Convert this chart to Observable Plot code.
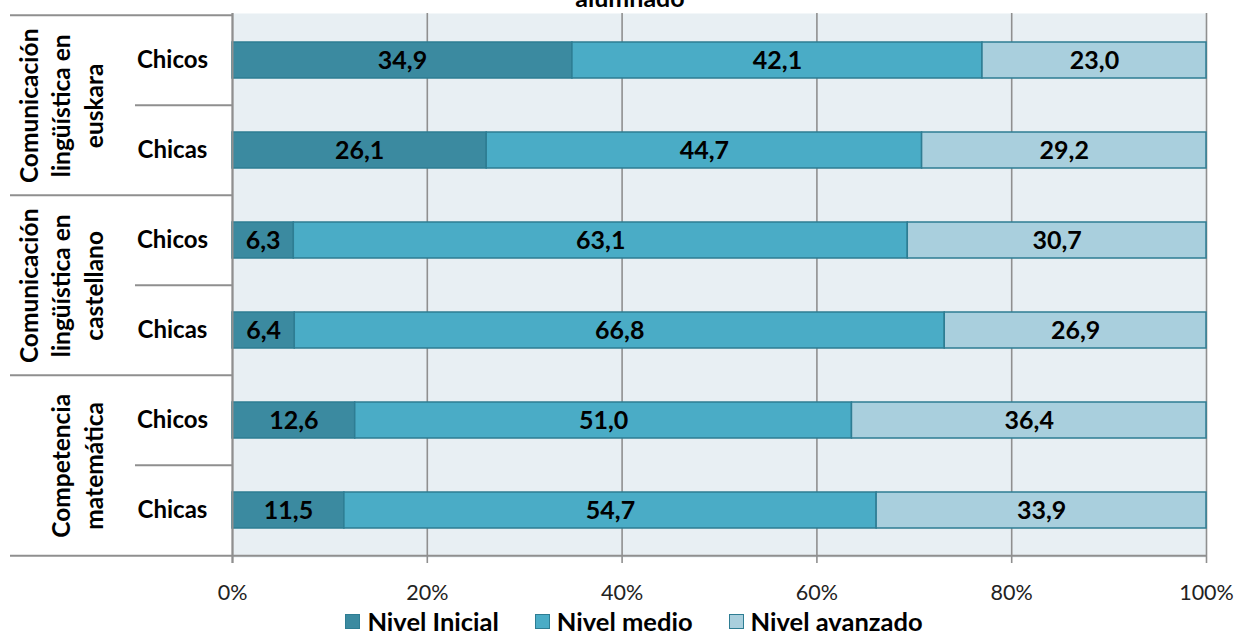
<!DOCTYPE html>
<html>
<head>
<meta charset="utf-8">
<script src="https://cdn.jsdelivr.net/npm/d3@7"></script>
<script src="https://cdn.jsdelivr.net/npm/@observablehq/plot@0.6"></script>
<style>
  html, body { margin: 0; padding: 0; background: #fff; overflow: hidden; }
  #wrap { position: relative; width: 1244px; height: 635px; font-family: Lato, "Open Sans", sans-serif; }
  #title { position: absolute; left: 0; top: -15px; width: 1244px; padding-left: 16px; box-sizing: border-box;
           text-align: center; font-weight: bold; font-size: 25px; line-height: 25px; color: #000; }
  #legend { display: flex; justify-content: center; align-items: center; height: 24px; line-height: 24px; margin-top: -1px;
            padding-left: 24px; font-weight: bold; font-size: 25.5px; color: #000; }
  .item { display: flex; align-items: center; margin: 0 18px; }
  .sw { width: 15px; height: 15px; box-sizing: border-box; border: 1px solid #2e7d93; margin-right: 7px; }
</style>
</head>
<body>
<div id="wrap">
  <div id="chart"></div>
  <div id="legend"></div>
  <div id="title">alumnado</div>
</div>
<script>
// ---- data ----
const groups = ["Comunicación lingüística en euskara", "Comunicación lingüística en castellano", "Competencia matemática"];
const groupLabels = ["Comunicación\nlingüística en\neuskara", "Comunicación\nlingüística en\ncastellano", "Competencia\nmatemática"];
const sexes = ["Chicos", "Chicas"];
const levels = ["Nivel Inicial", "Nivel medio", "Nivel avanzado"];
const nivelInicial = [34.9, 26.1, 6.3, 6.4, 12.6, 11.5];
const nivelMedio = [42.1, 44.7, 63.1, 66.8, 51.0, 54.7];
const nivelAvanzado = [23.0, 29.2, 30.7, 26.9, 36.4, 33.9];
const xTicks = [0, 0.2, 0.4, 0.6, 0.8, 1];
const colors = ["#3b8aa0", "#4aacc6", "#a9cfdd"];

// ---- layout ----
const W = 1244, H = 610, MT = 13, MR = 38, MB = 53, ML = 232;
const plotW = W - ML - MR;
const rowKeys = [];
groups.forEach(g => sexes.forEach(s => rowKeys.push(g + "|" + s)));
const step = (H - MT - MB) / rowKeys.length;

const series = [nivelInicial, nivelMedio, nivelAvanzado];
const data = [];
rowKeys.forEach((r, i) => levels.forEach((lv, j) => {
  data.push({row: r, group: groups[Math.floor(i / 2)], sex: sexes[i % 2], level: lv, value: series[j][i]});
}));
const rows = rowKeys.map((r, i) => ({row: r, sex: sexes[i % 2], first: i % 2 === 0}));
const groupRows = groups.map((g, i) => ({row: rowKeys[i * 2], label: groupLabels[i]}));
const fmt = v => v.toFixed(1).replace(".", ",");
const gray = "#8f8f8f";

const plot = Plot.plot({
  width: W, height: H,
  marginTop: MT, marginRight: MR, marginBottom: MB, marginLeft: ML,
  style: {fontFamily: "Lato, 'Open Sans', sans-serif", fontSize: "21px", background: "#fff", overflow: "visible"},
  x: {domain: [0, 1], axis: null, label: null},
  y: {domain: rowKeys, padding: 0.6, paddingOuter: 0.3, axis: null},
  color: {domain: levels, range: colors},
  marks: [
    Plot.frame({fill: "#e8eff3", stroke: null}),
    Plot.gridX(xTicks, {stroke: gray, strokeOpacity: 1, strokeWidth: 1.6}),
    Plot.barX(data, Plot.stackX({x: "value", y: "row", z: "level", fill: "level", order: levels, offset: "normalize",
      stroke: "#2e7d93", strokeWidth: 1.5})),
    Plot.text(data, Plot.stackX({x: "value", y: "row", z: "level", order: levels, offset: "normalize",
      text: d => fmt(d.value), fontWeight: "bold", fontSize: 25, fill: "#000"})),
    // left table: row labels
    Plot.text(rows, {y: "row", text: "sex", frameAnchor: "left", dx: -60, textAnchor: "middle",
      fontWeight: "bold", fontSize: 24, fill: "#000"}),
    // group labels (rotated)
    Plot.text(groupRows, {y: "row", text: "label", frameAnchor: "left", dx: -130, dy: step / 2, rotate: -90,
      textAnchor: "middle", lineAnchor: "bottom", lineHeight: 1.32, fontWeight: "bold", fontSize: 24.5, fill: "#000"}),
    // separators in the left table
    Plot.ruleY(rows.filter(d => d.first), {y: "row", dy: -step / 2, insetLeft: -222, insetRight: plotW, stroke: gray, strokeWidth: 2}),
    Plot.ruleY(rows.filter(d => !d.first), {y: "row", dy: -step / 2, insetLeft: -97, insetRight: plotW, stroke: gray, strokeWidth: 2}),
    Plot.ruleY(rows.slice(-1), {y: "row", dy: step / 2, insetLeft: -222, stroke: gray, strokeWidth: 2}),
    Plot.ruleX([0], {insetBottom: -6, stroke: gray, strokeWidth: 2}),
    Plot.axisX(xTicks, {tickSize: 6, tickPadding: 21, stroke: gray, strokeWidth: 1.6, fill: "#222", label: null,
      tickFormat: d3.format(".0%"), fontSize: 21.5})
  ]
});
document.getElementById("chart").appendChild(plot);

// legend
const leg = document.getElementById("legend");
levels.forEach((lv, i) => {
  const it = document.createElement("div"); it.className = "item";
  const sw = document.createElement("div"); sw.className = "sw"; sw.style.background = colors[i];
  const tx = document.createElement("span"); tx.textContent = lv;
  it.appendChild(sw); it.appendChild(tx); leg.appendChild(it);
});
</script>
</body>
</html>
